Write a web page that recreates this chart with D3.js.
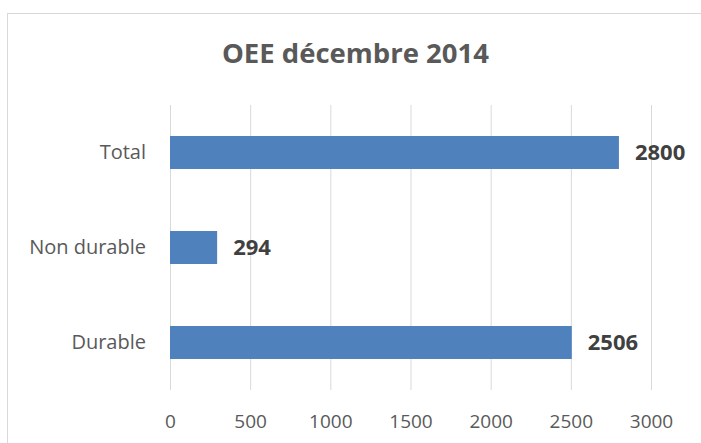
<!DOCTYPE html>
<html>
<head>
<meta charset="utf-8">
<script src="https://cdn.jsdelivr.net/npm/d3@7"></script>
<style>
body { margin:0; background:#ffffff; }
text { font-family:"Open Sans", sans-serif; }
</style>
</head>
<body>
<svg id="chart"></svg>
<script>
// data
var categories = ["Total", "Non durable", "Durable"];
var values = [2800, 294, 2506];
var tickValues = [0, 500, 1000, 1500, 2000, 2500, 3000];
var chartTitle = "OEE décembre 2014";

var screen = {width:701, height:443}
var plot = {left:170, right:651, top:105, bottom:390}

var svg = d3.select("#chart")
	.attr("width", screen.width)
	.attr("height", screen.height)

// chart border (runs off the picture on right and bottom)
svg.append("rect")
	.attr("x", 7.5)
	.attr("y", 13.5)
	.attr("width", 760)
	.attr("height", 500)
	.attr("fill", "none")
	.attr("stroke", "#d9d9d9")

var xScale = d3.scaleLinear()
	.domain([0, 3000])
	.range([plot.left, plot.right])
var yScale = d3.scaleBand()
	.domain(categories)
	.range([plot.top, plot.bottom])
	.paddingInner(0.653)
	.paddingOuter(0.3265)

//----------grid + x labels-----------
var xAxis = d3.axisBottom(xScale)
	.tickValues(tickValues)
	.tickSize(plot.bottom - plot.top)
	.tickFormat(d3.format("d"))
var gx = svg.append("g")
	.attr("transform", "translate(0," + plot.top + ")")
	.call(xAxis)
gx.select(".domain").remove()
gx.selectAll(".tick line")
	.attr("stroke", "#d9d9d9")
	.attr("stroke-width", 1)
gx.selectAll(".tick text")
	.attr("y", plot.bottom - plot.top + 38)
	.attr("dy", 0)
	.attr("fill", "#595959")
	.style("font-size", "19px")
	.style("font-family", "'Open Sans', sans-serif")

//----------category labels-----------
var yAxis = d3.axisLeft(yScale).tickSize(0).tickPadding(24)
var gy = svg.append("g")
	.attr("transform", "translate(" + plot.left + ",0)")
	.call(yAxis)
gy.select(".domain").remove()
gy.selectAll(".tick text")
	.attr("fill", "#595959")
	.attr("dy", "0.32em")
	.style("font-size", "20px")
	.style("font-family", "'Open Sans', sans-serif")

//----------bars-----------
svg.append("g")
	.selectAll("rect")
	.data(categories)
	.enter()
	.append("rect")
	.attr("x", xScale(0))
	.attr("y", function(c) { return yScale(c) })
	.attr("width", function(c, i) { return xScale(values[i]) - xScale(0) })
	.attr("height", yScale.bandwidth())
	.attr("fill", "#4f81bd")

//----------value labels-----------
svg.append("g")
	.selectAll("text")
	.data(categories)
	.enter()
	.append("text")
	.attr("x", function(c, i) { return xScale(values[i]) + 16 })
	.attr("y", function(c) { return yScale(c) + yScale.bandwidth() / 2 })
	.attr("dy", "0.36em")
	.attr("fill", "#404040")
	.style("font-size", "22px")
	.style("font-weight", "bold")
	.text(function(c, i) { return values[i] })

//----------title-----------
svg.append("text")
	.attr("x", 355.5)
	.attr("y", 63)
	.attr("text-anchor", "middle")
	.attr("fill", "#595959")
	.style("font-size", "27.5px")
	.style("font-weight", "bold")
	.text(chartTitle)
</script>
</body>
</html>
